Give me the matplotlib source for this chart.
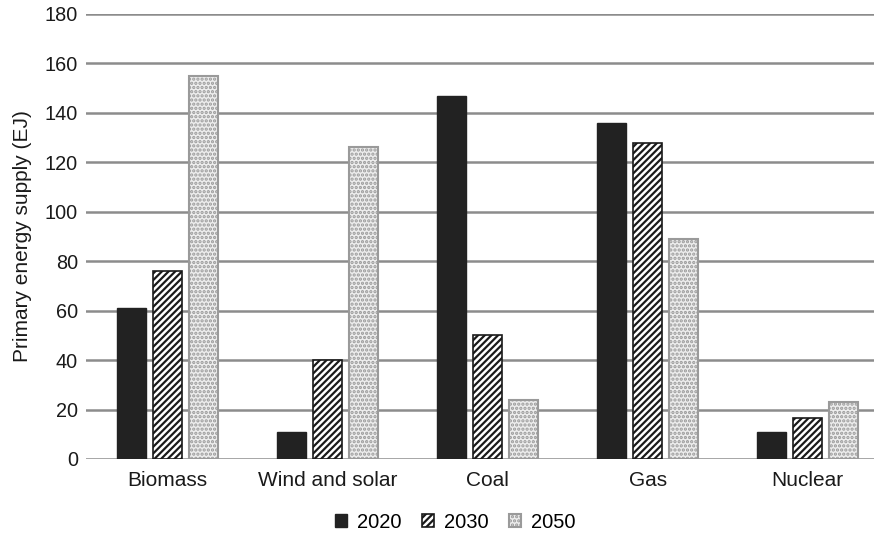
import matplotlib
matplotlib.use("Agg")
import matplotlib.pyplot as plt
import numpy as np

categories = ["Biomass", "Wind and solar", "Coal", "Gas", "Nuclear"]
years = ["2020", "2030", "2050"]
v2020 = [61, 11, 147, 136, 11]
v2030 = [76, 40, 50, 128, 16.5]
v2050 = [155, 126, 24, 89, 23]
yticks = [0, 20, 40, 60, 80, 100, 120, 140, 160, 180]

plt.rcParams['font.family'] = ['Liberation Sans', 'DejaVu Sans']
plt.rcParams['hatch.linewidth'] = 1.6

fig = plt.figure(figsize=(8.84, 5.36), dpi=100)
ax = fig.add_axes([0.0973, 0.1437, 0.8914, 0.8303])

x = np.arange(len(categories))
w = 0.18
step = 0.225
offs = [-step, 0, step]

grid_c = "#8c8c8c"
ax.set_ylim(0, 180)
ax.set_xlim(-0.51, 4.415)
ax.set_yticks(yticks)
ax.yaxis.grid(True, color=grid_c, linewidth=1.8)
ax.set_axisbelow(True)
for s in ax.spines.values():
    s.set_visible(False)

b1 = ax.bar(x + offs[0], v2020, w, color="#222222", edgecolor="#222222", linewidth=1, label=years[0])
plt.rcParams['hatch.color'] = "#1a1a1a"
b2 = ax.bar(x + offs[1], v2030, w, color="white", edgecolor="#1a1a1a", hatch="/////", linewidth=1.2, label=years[1])
b3 = ax.bar(x + offs[2], v2050, w, color="#ededed", edgecolor="#9a9a9a", hatch="....", linewidth=1.5, label=years[2])

ax.tick_params(axis='y', length=0, labelsize=14.3, labelcolor="#1a1a1a", pad=5.8)
ax.tick_params(axis='x', length=0, labelsize=15, labelcolor="#1a1a1a", pad=8.5)
ax.set_xticks(x)
ax.set_xticklabels(categories)
ax.set_ylabel("Primary energy supply (EJ)", fontsize=15, color="#1a1a1a", labelpad=9)

leg = fig.legend(handles=[b1, b2, b3], labels=years, loc="center", bbox_to_anchor=(0.515, 0.026),
                 ncol=3, frameon=False, fontsize=14.5, handlelength=0.6, handleheight=0.6,
                 handletextpad=0.5, columnspacing=1.0)

fig.savefig("out.png", dpi=100)
